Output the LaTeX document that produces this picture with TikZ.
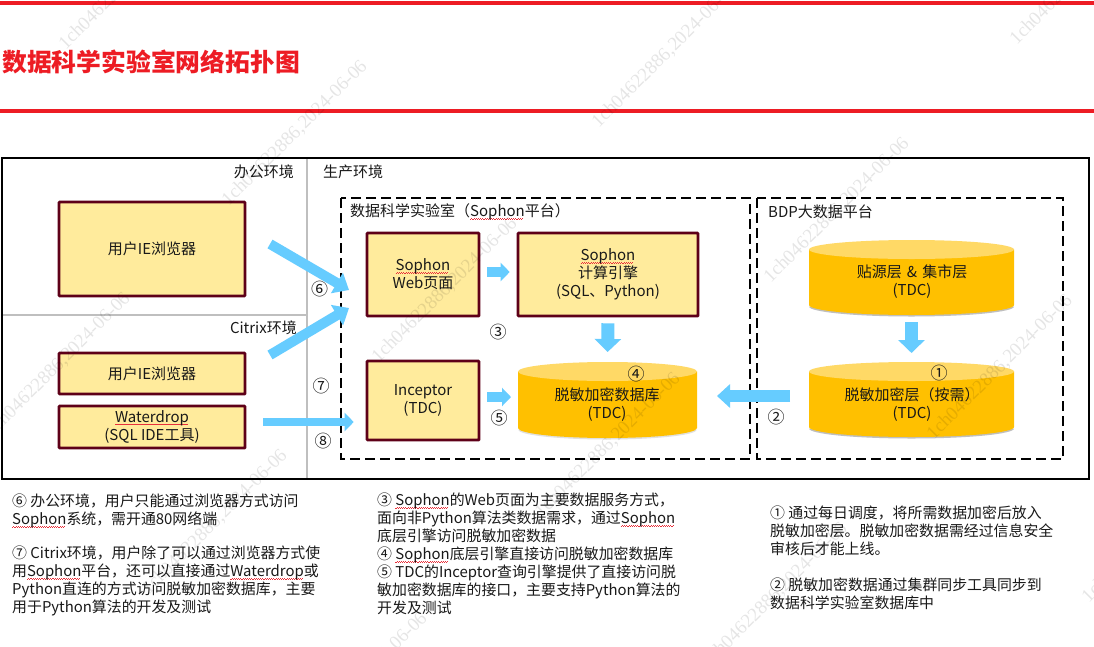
\documentclass[tikz,border=0pt]{standalone}
\usepackage{fontspec}
\setmainfont{Noto Sans CJK SC}
\newfontfamily\wmfont{Liberation Serif}
\usetikzlibrary{arrows.meta}
\definecolor{titlered}{HTML}{ED1C24}
\definecolor{boxfill}{HTML}{FFEB9C}
\definecolor{boxline}{HTML}{5E0018}
\definecolor{cylbody}{HTML}{FFC000}
\definecolor{cyltop}{HTML}{FFD966}
\definecolor{flow}{HTML}{66CCFF}
\definecolor{divider}{HTML}{BFBFBF}
\definecolor{squig}{HTML}{E8303A}
\newcommand{\sq}[1]{\leavevmode\sbox0{#1}\rlap{\color{squig}\raisebox{-2.6pt}{\hbox to \wd0{\leaders\hbox{\rule[0pt]{1.1pt}{.7pt}\rule[.7pt]{1.1pt}{.7pt}}\hfill}}}#1}
% drum body on a named rectangular node: #1 node name, #2 half width, #3 shadow colour
\newcommand{\drum}[3]{%
  \path[fill=#3] ([yshift=8.5pt]#1.south west) arc[start angle=180,end angle=360,x radius=#2pt,y radius=10pt] -- cycle;
  \path[fill=cylbody] ([yshift=-9.5pt]#1.north west) -- ([yshift=10pt]#1.south west) arc[start angle=180,end angle=360,x radius=#2pt,y radius=10pt] -- ([yshift=-9.5pt]#1.north east) -- cycle;
  \path[fill=cyltop] ([yshift=-9.5pt]#1.north) ellipse (#2pt and 9.5pt);
}
\tikzset{
  x=1pt,y=-1pt,
  txt/.style={inner sep=0pt,font=\fontsize{15}{18}\selectfont,text=black!90,align=center},
  notetxt/.style={inner sep=0pt,font=\fontsize{14.9}{18}\selectfont,text=black!90,align=left,anchor=north west},
  ybox/.style={draw=boxline,fill=boxfill,line width=2.6pt,rounded corners=.6pt,inner sep=0pt,txt,anchor=center},
  drumframe/.style={draw=none,fill=none,inner sep=0pt,outer sep=0pt,anchor=center},
  dashbox/.style={draw=black,line width=2pt,dash pattern=on 10pt off 5pt},
  redbar/.style={fill=titlered,draw=none},
  divline/.style={draw=divider,line width=1.8pt},
  flowA/.style={draw=flow,line width=10pt,-{Triangle[length=14pt,width=23pt,fill=flow,color=flow]}},
  flowB/.style={draw=flow,line width=8pt,-{Triangle[length=9pt,width=18pt,fill=flow,color=flow]}},
  flowC/.style={draw=flow,line width=13pt,-{Triangle[length=13pt,width=26pt,fill=flow,color=flow]}},
  circmark/.style={inner sep=0pt,font=\fontsize{17}{18}\selectfont,text=black!90},
  wmark/.style={inner sep=0pt,rotate=45,anchor=west,font=\wmfont\fontsize{19}{19}\selectfont,text=black,opacity=.10,text opacity=.10},
}
\begin{document}
\begin{tikzpicture}
\useasboundingbox[fill=white] (0,0) rectangle (1094,646);
% title bars
\path[redbar] (0,1) rectangle (1094,5);
\path[redbar] (0,109) rectangle (1094,113);
\node[anchor=west,inner sep=0pt,font=\bfseries\fontsize{24.8}{28}\selectfont,text=titlered] (title) at (2,62) {数据科学实验室网络拓扑图};
% dividers and frame
\coordinate (frameTL) at (2,158);
\coordinate (frameBR) at (1089,479);
\coordinate (vTop) at (307,158);
\coordinate (vBot) at (307,479);
\coordinate (hL) at (2,315);
\coordinate (hR) at (307,315);
\draw[divline] (vTop) -- (vBot);
\draw[divline] (hL) -- (hR);
\draw[black,line width=2pt] (frameTL) rectangle (frameBR);
\node[txt,anchor=east] (office) at (294,172) {办公环境};
\node[txt,anchor=west] (prod) at (323,172) {生产环境};
\node[txt,anchor=east] (citrix) at (297,328) {Citrix环境};
% platform boxes
\draw[dashbox] (341,198) rectangle (750,459);
\draw[dashbox] (757,198) rectangle (1063,459);
\node[txt,anchor=west] (labTitle) at (350,212) {数据科学实验室（\sq{Sophon}平台）};
\node[txt,anchor=west] (bdpTitle) at (768,212) {BDP大数据平台};
% yellow boxes
\node[ybox,minimum width=186pt,minimum height=94pt] (ieA) at (152,249) {用户IE浏览器};
\node[ybox,minimum width=186pt,minimum height=41pt] (ieB) at (152,373.5) {用户IE浏览器};
\node[ybox,minimum width=186pt,minimum height=42pt] (water) at (152,427) {\sq{Waterdrop}\\(SQL IDE工具)};
\node[ybox,minimum width=112pt,minimum height=83pt] (web) at (423,274.5) {\sq{Sophon}\\Web页面};
\node[ybox,minimum width=180pt,minimum height=83pt] (engine) at (608,274.5) {\sq{Sophon}\\计算引擎\\(SQL、Python)};
\node[ybox,minimum width=112pt,minimum height=79pt] (inceptor) at (423,400.5) {Inceptor\\(TDC)};
% cylinders
\node[drumframe,minimum width=179pt,minimum height=76pt] (db) at (607.5,400) {};
\node[drumframe,minimum width=205pt,minimum height=75pt] (src) at (911.5,277.5) {};
\node[drumframe,minimum width=205pt,minimum height=75pt] (mask) at (911.5,399.5) {};
\drum{db}{89.5}{black!12}
\drum{src}{102.5}{black!25}
\drum{mask}{102.5}{black!25}
\node[txt] (dbLabel) at (607,405) {脱敏加密数据库\\(TDC)};
\node[txt] (srcLabel) at (912,281.5) {贴源层\hspace{.12em} \& \hspace{.12em}集市层\\(TDC)};
\node[txt] (maskLabel) at (912,405) {脱敏加密层（按需）\\(TDC)};
% flow arrows
\coordinate (a1s) at (270,244);
\coordinate (a1e) at (349,290);
\coordinate (a2s) at (270,355);
\coordinate (a2e) at (349,308);
\draw[flowA] (a1s) -- (a1e);
\draw[flowA] (a2s) -- (a2e);
\draw[flowB,shorten <=17pt,shorten >=12pt] ([yshift=5pt]water.east) -- ([yshift=5pt]water.east -| inceptor.west);
\draw[flowB,line width=10pt,shorten <=7pt,shorten >=7pt] ([yshift=2.5pt]web.east) -- ([yshift=2.5pt]web.east -| engine.west);
\draw[flowB,line width=10pt,shorten <=7pt,shorten >=7pt] ([yshift=3.5pt]inceptor.east) -- ([yshift=3.5pt]inceptor.east -| db.west);
\draw[flowC,shorten <=6pt,shorten >=10pt] (engine.south) -- (db.north);
\draw[flowC,shorten <=7pt,shorten >=9pt] (src.south) -- (mask.north);
\draw[flowC,line width=12pt,-{Triangle[length=13pt,width=23pt,fill=flow,color=flow]},shorten <=19pt,shorten >=20pt] ([yshift=3.5pt]mask.west) -- ([yshift=3.5pt]mask.west -| db.east);
% circled marks
\node[circmark] (m6) at (319.5,289) {⑥};
\node[circmark] (m7) at (321,386) {⑦};
\node[circmark] (m8) at (323,441) {⑧};
\node[circmark] (m3) at (498,332) {③};
\node[circmark] (m5) at (499,418) {⑤};
\node[circmark] (m4) at (636,374) {④};
\node[circmark] (m1) at (939,373) {①};
\node[circmark] (m2) at (776,417) {②};
% notes
\node[notetxt] (n6) at (12,494) {⑥ 办公环境，用户只能通过浏览器方式访问\\\sq{Sophon}系统，需开通80网络端};
\node[notetxt] (n7) at (12,546) {⑦ Citrix环境，用户除了可以通过浏览器方式使\\用\sq{Sophon}平台，还可以直接通过\sq{Waterdrop}或\\Python直连的方式访问脱敏加密数据库，主要\\用于Python算法的开发及测试};
\node[notetxt] (n3) at (377,493) {③ \sq{Sophon}的Web页面为主要数据服务方式，\\面向非Python算法类数据需求，通过\sq{Sophon}\\底层引擎访问脱敏加密数据\\④ \sq{Sophon}底层引擎直接访问脱敏加密数据库\\⑤ TDC的Inceptor查询引擎提供了直接访问脱\\敏加密数据库的接口，主要支持Python算法的\\开发及测试};
\node[notetxt] (n1) at (770,506) {① 通过每日调度，将所需数据加密后放入\\脱敏加密层。脱敏加密数据需经过信息安全\\审核后才能上线。};
\node[notetxt] (n2) at (770,578) {② 脱敏加密数据通过集群同步工具同步到\\数据科学实验室数据库中};
% watermarks
\begin{scope}
\clip (0,0) rectangle (1094,646);
\foreach \n/\wx/\wy in {wa/62/47,wb/225/203,wc/-12/435,wd/145/592,we/375/360,wf/538/515,wg/767/280,wh/930/437,wi/595/125,wj/1013/42,wk/285/755,wl/705/665,wm/1085/600}
  \node[wmark] (\n) at (\wx,\wy) {1ch04622886,2024-06-06};
\end{scope}
\end{tikzpicture}
\end{document}
